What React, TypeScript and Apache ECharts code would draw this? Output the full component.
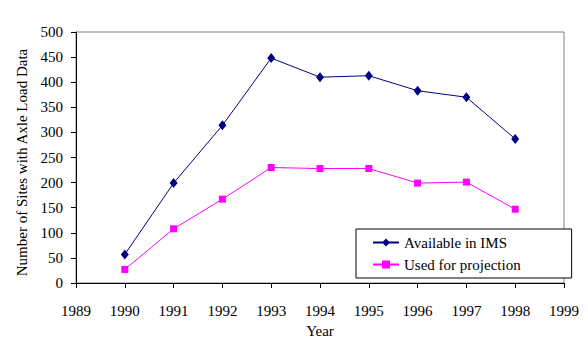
import React, { useEffect, useRef } from "react";
import * as echarts from "echarts";

const years = [1990, 1991, 1992, 1993, 1994, 1995, 1996, 1997, 1998];
const availableInIMS = [57, 199, 314, 448, 410, 413, 383, 370, 287];
const usedForProjection = [27, 108, 167, 230, 228, 228, 199, 201, 147];
const seriesNames = ["Available in IMS", "Used for projection"];
const xTitle = "Year";
const yTitle = "Number of Sites with Axle Load Data";

const FONT = "'Liberation Serif', 'Times New Roman', serif";

export default function App() {
  const ref = useRef<HTMLDivElement>(null);
  useEffect(() => {
    if (!ref.current) return;
    const chart = echarts.init(ref.current, undefined, { renderer: "svg" });
    const pair = (vals: number[]) => years.map((y, i) => [y, vals[i]]);
    chart.setOption({
      animation: false,
      backgroundColor: "#ffffff",
      textStyle: { fontFamily: FONT, color: "#000" },
      grid: {
        left: 76,
        right: 24,
        top: 32,
        bottom: 68,
        show: true,
        borderColor: "#808080",
        borderWidth: 1,
        backgroundColor: "transparent",
      },
      legend: {
        orient: "vertical",
        left: 356,
        top: 229,
        data: seriesNames,
        backgroundColor: "#fff",
        borderColor: "#000",
        borderWidth: 1,
        borderRadius: 0,
        padding: [6, 51, 6, 16],
        itemGap: 7,
        itemWidth: 26,
        itemHeight: 10,
        textStyle: { fontFamily: FONT, fontSize: 15, color: "#000", padding: [0, 0, 0, 0] },
      },
      xAxis: {
        type: "value",
        min: 1989,
        max: 1999,
        interval: 1,
        name: xTitle,
        nameLocation: "middle",
        nameGap: 40,
        nameTextStyle: { fontFamily: FONT, fontSize: 15, color: "#000" },
        axisLine: { show: true, onZero: false, lineStyle: { color: "#000", width: 1 } },
        axisTick: { show: true, length: 5, inside: false, lineStyle: { color: "#000" } },
        axisLabel: {
          margin: 20,
          fontFamily: FONT,
          fontSize: 15,
          color: "#000",
          formatter: (v: number) => String(v),
        },
        splitLine: { show: false },
      },
      yAxis: {
        type: "value",
        min: 0,
        max: 500,
        interval: 50,
        name: yTitle,
        nameLocation: "middle",
        nameGap: 44,
        nameTextStyle: { fontFamily: FONT, fontSize: 15, color: "#000", padding: [0, 10, 0, 0] },
        axisLine: { show: true, lineStyle: { color: "#000", width: 1 } },
        axisTick: { show: true, length: 5, inside: false, lineStyle: { color: "#000" } },
        axisLabel: { margin: 13, fontFamily: FONT, fontSize: 15, color: "#000" },
        splitLine: { show: false },
      },
      series: [
        {
          name: seriesNames[0],
          type: "line",
          data: pair(availableInIMS),
          symbol: "diamond",
          symbolSize: [8, 10],
          itemStyle: { color: "#000080" },
          lineStyle: { color: "#000080", width: 1 },
        },
        {
          name: seriesNames[1],
          type: "line",
          data: pair(usedForProjection),
          symbol: "rect",
          symbolSize: 7,
          itemStyle: { color: "#FF00FF" },
          lineStyle: { color: "#FF00FF", width: 1 },
        },
      ],
    });
    return () => chart.dispose();
  }, []);
  return <div ref={ref} style={{ width: 588, height: 351, margin: -8 }} />;
}
